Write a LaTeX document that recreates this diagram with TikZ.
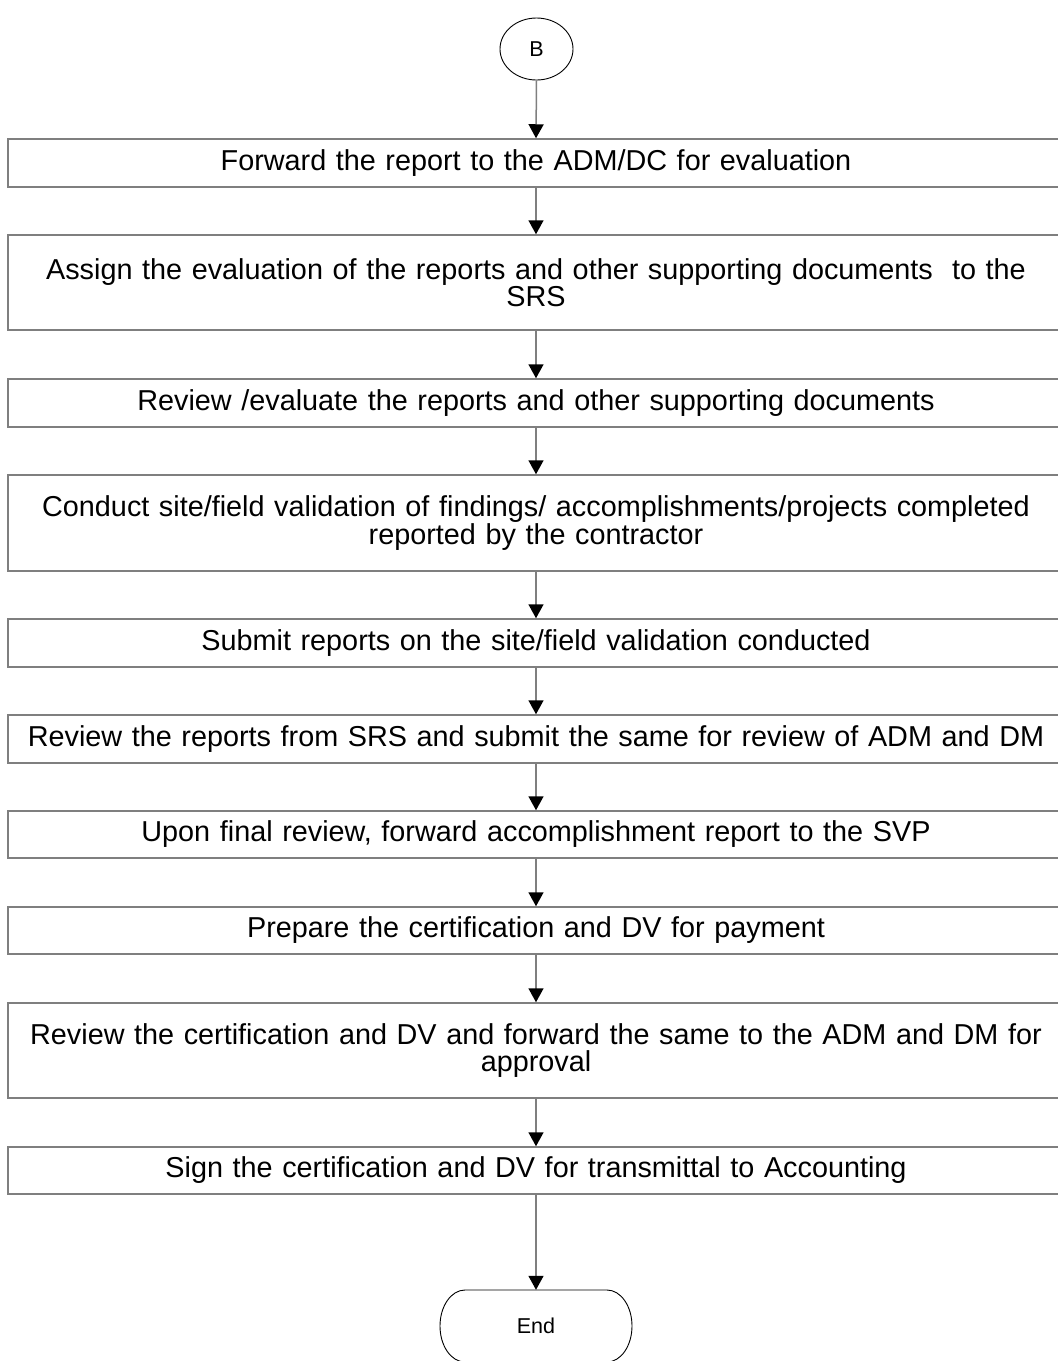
\documentclass[tikz,border=0pt]{standalone}
\usepackage{fontspec}
\setmainfont{Liberation Sans}
\usetikzlibrary{arrows.meta,shapes.geometric}
\definecolor{boxgray}{HTML}{7F7F7F}
\begin{document}
\begin{tikzpicture}[x=1pt,y=-1pt,
  stepbox/.style={draw=boxgray, line width=1.5pt, minimum width=1056pt, text width=1050pt,
    align=center, inner sep=0pt, font=\fontsize{28.8}{26.5}\selectfont},
  conn/.style={draw=boxgray, line width=1.5pt, -{Triangle[length=14pt,width=15pt,color=black]}},
  termtext/.style={font=\fontsize{21.5}{22}\selectfont, inner sep=0pt}]
\useasboundingbox (0,0) rectangle (1058,1361);
\clip (0,0) rectangle (1058,1361);
\fill[white] (0,0) rectangle (1058,1361);

\node[ellipse, draw=black, line width=0.9pt, minimum width=73pt, minimum height=62pt, inner sep=0pt,
  font=\fontsize{21.5}{22}\selectfont] (B) at (536.5,49) {B};

\node[stepbox, minimum height=48pt] (s1) at (536,163) {Forward the report to the ADM/DC for evaluation};
\node[stepbox, minimum height=95pt] (s2) at (536,282.5) {Assign the evaluation of the reports and other supporting documents \ to the\\SRS};
\node[stepbox, minimum height=48pt] (s3) at (536,403) {Review /evaluate the reports and other supporting documents};
\node[stepbox, minimum height=96pt] (s4) at (536,523) {Conduct site/field validation of findings/ accomplishments/projects completed\\reported by the contractor};
\node[stepbox, minimum height=48pt] (s5) at (536,643) {Submit reports on the site/field validation conducted};
\node[stepbox, minimum height=48pt] (s6) at (536,739) {Review the reports from SRS and submit the same for review of ADM and DM};
\node[stepbox, minimum height=47pt] (s7) at (536,834.5) {Upon final review, forward accomplishment report to the SVP};
\node[stepbox, minimum height=47pt] (s8) at (536,930.5) {Prepare the certification and DV for payment};
\node[stepbox, minimum height=95pt] (s9) at (536,1050.5) {Review the certification and DV and forward the same to the ADM and DM for\\approval};
\node[stepbox, minimum height=47pt] (s10) at (536,1170.5) {Sign the certification and DV for transmittal to Accounting};

\node[termtext, minimum width=192pt, minimum height=72pt] (end) at (536,1326) {End};
\draw[black, line width=0.9pt] (465,1290) -- (607,1290)
  arc[start angle=-90, end angle=90, x radius=25, y radius=36]
  -- (465,1362)
  arc[start angle=90, end angle=270, x radius=25, y radius=36] -- cycle;

\draw[conn] (B.south) -- (s1.north);
\draw[conn] (s1.south) -- (s2.north);
\draw[conn] (s2.south) -- (s3.north);
\draw[conn] (s3.south) -- (s4.north);
\draw[conn] (s4.south) -- (s5.north);
\draw[conn] (s5.south) -- (s6.north);
\draw[conn] (s6.south) -- (s7.north);
\draw[conn] (s7.south) -- (s8.north);
\draw[conn] (s8.south) -- (s9.north);
\draw[conn] (s9.south) -- (s10.north);
\draw[conn] (s10.south) -- (end.north);
\end{tikzpicture}
\end{document}
